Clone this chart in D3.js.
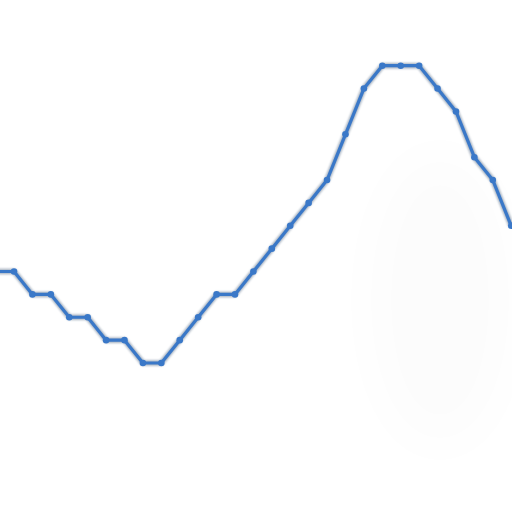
<!DOCTYPE html>
<html><head><meta charset="utf-8">
<script src="https://cdn.jsdelivr.net/npm/d3@7/dist/d3.min.js"></script>
<style>html,body{margin:0;padding:0;background:#fff;overflow:hidden}svg{display:block}</style>
</head><body>
<script>
const categories = d3.range(29);
const values = [0,0,-1,-1,-2,-2,-3,-3,-4,-4,-3,-2,-1,-1,0,1,2,3,4,6,8,9,9,9,8,7,5,4,2];

const W = 512, H = 512;
const svg = d3.select("body").append("svg").attr("width", W).attr("height", H);
const defs = svg.append("defs");
const blur = defs.append("filter").attr("id","blob").attr("x","-50%").attr("y","-50%").attr("width","200%").attr("height","200%");
blur.append("feGaussianBlur").attr("stdDeviation", 30);
const sh = defs.append("filter").attr("id","halo");
sh.append("feGaussianBlur").attr("stdDeviation", 0.8);

svg.append("ellipse").attr("cx", 440).attr("cy", 300).attr("rx", 70).attr("ry", 150)
  .attr("fill", "#000").attr("opacity", 0.012).attr("filter","url(#blob)");

const x = d3.scaleLinear().domain([0, 28]).range([-4.4, 511.2]);
const y = d3.scaleLinear().domain([-4, 9]).range([363, 65.7]);

const data = categories.map((c, i) => ({c, v: values[i]}));
const line = d3.line().x(d => x(d.c)).y(d => y(d.v));

svg.append("path").datum(data).attr("d", line)
  .attr("fill","none").attr("stroke","#5a6f8a").attr("stroke-width",5.5)
  .attr("stroke-linejoin","round").attr("opacity",0.55).attr("filter","url(#halo)");
svg.append("path").datum(data).attr("d", line)
  .attr("fill","none").attr("stroke","#3a78c8").attr("stroke-width",3.2)
  .attr("stroke-linejoin","round");
svg.selectAll("circle.pt").data(data).join("circle").attr("class","pt")
  .attr("cx", d => x(d.c)).attr("cy", d => y(d.v)).attr("r", 3.3)
  .attr("fill","#3a78c8");
</script>
</body></html>
